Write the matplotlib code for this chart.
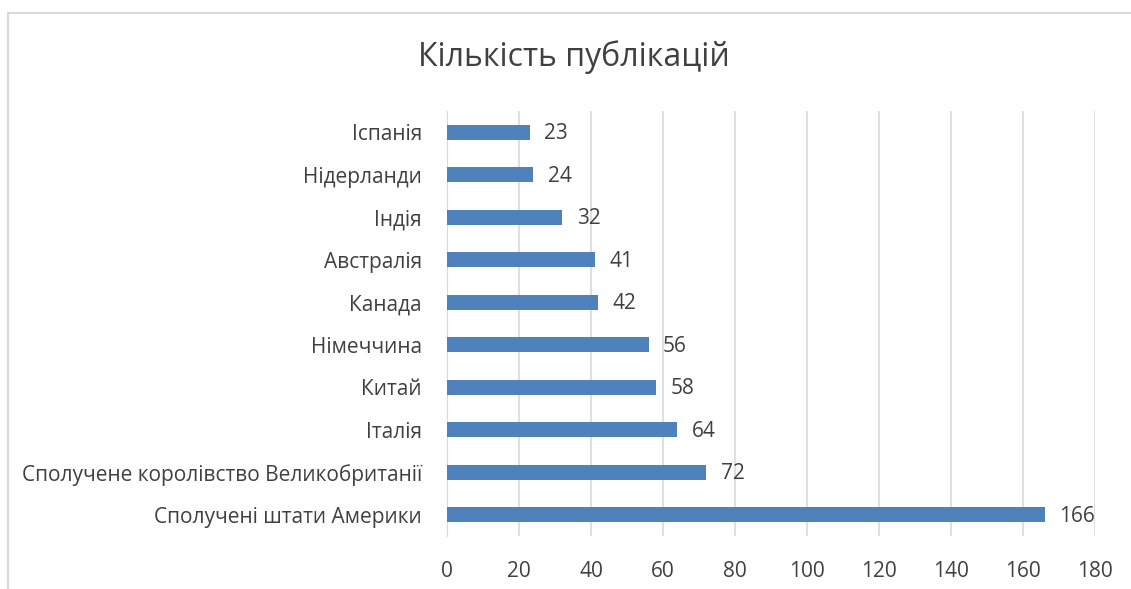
import matplotlib.pyplot as plt
from matplotlib.patches import Rectangle

countries = ['Сполучені штати Америки', 'Сполучене королівство Великобританії',
             'Італія', 'Китай', 'Німеччина', 'Канада', 'Австралія',
             'Індія', 'Нідерланди', 'Іспанія']
counts = [166, 72, 64, 58, 56, 42, 41, 32, 24, 23]
x_ticks = [0, 20, 40, 60, 80, 100, 120, 140, 160, 180]

plt.rcParams['font.family'] = ['Open Sans', 'DejaVu Sans']
text_color = '#404040'

fig = plt.figure(figsize=(11.31, 5.89), dpi=100)
ax = fig.add_axes([447 / 1131, 1 - 536 / 589, (1095 - 447) / 1131, (536 - 111) / 589])

y = list(range(len(countries)))
ax.barh(y, counts, height=0.35, color='#4F81BD', zorder=3)
for yi, v in zip(y, counts):
    ax.text(v + 4, yi - 0.04, str(v), va='center', ha='left', fontsize=15, color=text_color)

ax.set_xlim(0, 180)
ax.set_ylim(-0.5, len(countries) - 0.5)
ax.set_xticks(x_ticks)
ax.set_yticks(y)
ax.set_yticklabels(countries)
ax.grid(axis='x', color='#d9d9d9', linewidth=1.2, zorder=0)
for s in ['top', 'right', 'bottom']:
    ax.spines[s].set_visible(False)
ax.spines['left'].set_color('#d9d9d9')
ax.tick_params(axis='both', length=0, labelsize=15, colors=text_color)
ax.tick_params(axis='x', pad=18)
ax.tick_params(axis='y', pad=18)

fig.text(574 / 1131, 1 - 57 / 589, 'Кількість публікацій', ha='center', va='center',
         fontsize=23, color=text_color)

# рамка диаграммы
fig.patches.append(Rectangle((8 / 1131, -0.01), 1.2, 1 - 13 / 589 + 0.01,
                             transform=fig.transFigure, fill=False,
                             edgecolor='#d9d9d9', linewidth=1.5))

fig.savefig('out.png', dpi=100)
